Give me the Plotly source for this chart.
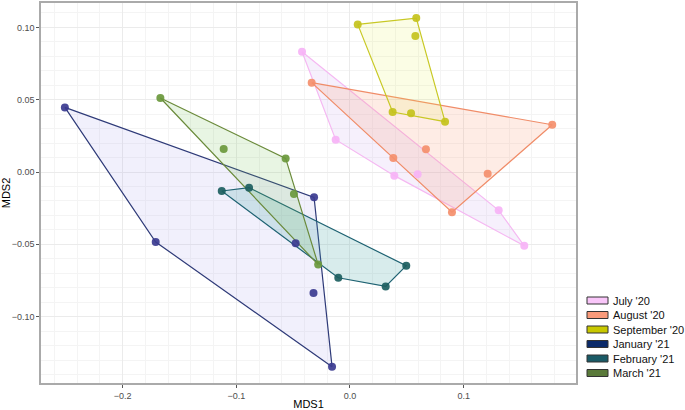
import plotly.graph_objects as go

# ---- data ----
groups = ["July '20", "August '20", "September '20", "January '21", "February '21", "March '21"]

july_x = [-0.0422, -0.0126, 0.0390, 0.0595, 0.1308, 0.1533]
july_y = [0.0832, 0.0224, -0.0025, -0.0016, -0.0265, -0.0510]

august_x = [-0.0337, 0.1779, 0.0897, 0.0381, 0.0668, 0.1211]
august_y = [0.0618, 0.0327, -0.0278, 0.0097, 0.0157, -0.0012]

september_x = [0.0068, 0.0583, 0.0575, 0.0375, 0.0537, 0.0836]
september_y = [0.1021, 0.1065, 0.0941, 0.0415, 0.0406, 0.0348]

january_x = [-0.2508, -0.1709, -0.0158, -0.0316, -0.0478, -0.0321]
january_y = [0.0447, -0.0484, -0.1346, -0.0175, -0.0492, -0.0836]

february_x = [-0.1128, -0.0888, -0.0103, 0.0314, 0.0495]
february_y = [-0.0131, -0.0108, -0.0731, -0.0791, -0.0648]

march_x = [-0.1668, -0.1111, -0.0566, -0.0493, -0.0280]
march_y = [0.0512, 0.0159, 0.0094, -0.0152, -0.0640]

xs = [july_x, august_x, september_x, january_x, february_x, march_x]
ys = [july_y, august_y, september_y, january_y, february_y, march_y]

# ---- styles ----
legend_colors = ["#f9c6f9", "#f99a7a", "#c8c800", "#0b2a6a", "#1a5a66", "#5a7a3a"]
point_colors = ["#f6b3f6", "#f48f6c", "#c4c21c", "#3b3b90", "#1c5e60", "#6a983c"]
line_colors = ["#f5b8f2", "#f08c68", "#c8c824", "#2e3a78", "#1e6272", "#6a8a3a"]
fill_colors = ["rgba(205,170,240,0.18)", "rgba(248,150,110,0.18)", "rgba(230,240,80,0.15)",
               "rgba(180,170,240,0.18)", "rgba(60,160,160,0.20)", "rgba(110,190,80,0.16)"]


def convex_hull(px, py):
    pts = sorted(set(zip(px, py)))
    if len(pts) <= 2:
        return pts

    def cross(o, a, b):
        return (a[0] - o[0]) * (b[1] - o[1]) - (a[1] - o[1]) * (b[0] - o[0])

    lower = []
    for p in pts:
        while len(lower) >= 2 and cross(lower[-2], lower[-1], p) <= 0:
            lower.pop()
        lower.append(p)
    upper = []
    for p in reversed(pts):
        while len(upper) >= 2 and cross(upper[-2], upper[-1], p) <= 0:
            upper.pop()
        upper.append(p)
    return lower[:-1] + upper[:-1]


fig = go.Figure()

# hull polygons
for g, x, y, lc, fc in zip(groups, xs, ys, line_colors, fill_colors):
    hull = convex_hull(x, y)
    hx = [p[0] for p in hull] + [hull[0][0]]
    hy = [p[1] for p in hull] + [hull[0][1]]
    fig.add_trace(go.Scatter(x=hx, y=hy, mode="lines", fill="toself", fillcolor=fc,
                             line=dict(color=lc, width=1.2), showlegend=False,
                             hoverinfo="skip"))

# points
for g, x, y, pc in zip(groups, xs, ys, point_colors):
    fig.add_trace(go.Scatter(x=x, y=y, mode="markers", name=g, showlegend=False,
                             marker=dict(color=pc, size=8, opacity=0.92)))

FONT = "Liberation Sans, Arial, sans-serif"

axis_common = dict(
    showgrid=True, gridcolor="#ebebeb", gridwidth=1,
    zeroline=False, showline=True, mirror=True, linecolor="#aaaaaa", linewidth=1.5,
    ticks="outside", ticklen=3, tickcolor="#555555", tickwidth=1,
    tickfont=dict(family=FONT, size=9, color="#4d4d4d"),
    minor=dict(showgrid=True, gridcolor="#f4f4f4", gridwidth=0.6),
)

fig.update_xaxes(range=[-0.2718, 0.1988], dtick=0.1, tick0=0, tickformat=".1f",
                 title=dict(text="MDS1", font=dict(family=FONT, size=11, color="#000000"),
                            standoff=1),
                 **axis_common)
fig.update_yaxes(range=[-0.1459, 0.1169], dtick=0.05, tick0=0, tickformat=".2f",
                 title=dict(text="MDS2", font=dict(family=FONT, size=11, color="#000000"),
                            standoff=5),
                 **axis_common)

# ---- manual legend (paper coordinates of the panel: 41..576 px, 3..383 px) ----
L, R, T, B = 41, 576, 3, 383
def px_x(p):
    return (p - L) / (R - L)
def px_y(p):
    return (B - p) / (B - T)

shapes = []
annotations = []
for i, (g, c) in enumerate(zip(groups, legend_colors)):
    cy = 300.5 + 14.5 * i
    shapes.append(dict(type="rect", xref="paper", yref="paper",
                       x0=px_x(587), x1=px_x(608), y0=px_y(cy + 3.5), y1=px_y(cy - 3.5),
                       fillcolor=c, line=dict(color="#333333", width=1)))
    annotations.append(dict(xref="paper", yref="paper", x=px_x(611), y=px_y(cy),
                            xanchor="left", yanchor="middle", text=g, showarrow=False,
                            font=dict(family=FONT, size=11, color="#111111")))

fig.update_layout(
    width=685, height=410,
    margin=dict(l=L, r=685 - R, t=T, b=410 - B, autoexpand=False),
    plot_bgcolor="white", paper_bgcolor="white",
    font=dict(family=FONT, size=11, color="#000000"),
    showlegend=False,
    shapes=shapes,
    annotations=annotations,
)

fig.write_html("out.html", config={"displayModeBar": False},
               post_script="document.body.style.margin='0';document.body.style.overflow='hidden';")
